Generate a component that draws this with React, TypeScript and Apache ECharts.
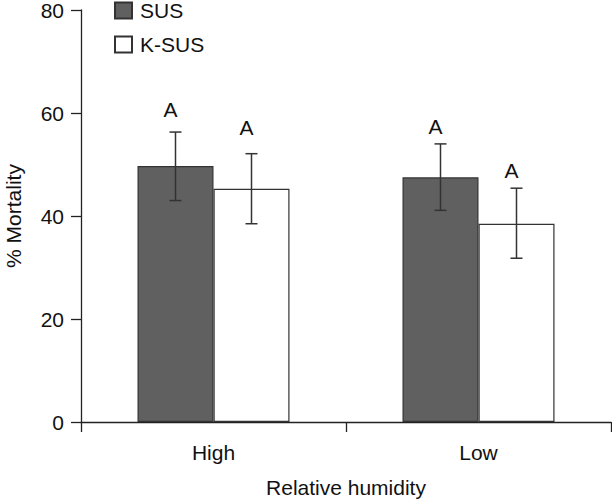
import React, { useEffect, useRef } from "react";
import * as echarts from "echarts";

const categories = ["High", "Low"];
const seriesNames = ["SUS", "K-SUS"];
const susMean = [49.7, 47.5];
const susErrLow = [43.0, 41.1];
const susErrHigh = [56.3, 54.0];
const ksusMean = [45.3, 38.5];
const ksusErrLow = [38.5, 31.8];
const ksusErrHigh = [52.1, 45.4];
const susLetters = ["A", "A"];
const ksusLetters = ["A", "A"];
const susLetterY = [60.7, 57.3];
const ksusLetterY = [57.1, 48.9];
const yTicks = [0, 20, 40, 60, 80];

const FONT = "Liberation Sans, Arial, Helvetica, sans-serif";
const BAR_W = 76;
const FS = 21;

function errorSeries(name: string, lows: number[], highs: number[], letters: string[], letterY: number[], side: number) {
  const data = categories.map((_, i) => [i, lows[i], highs[i], letterY[i]]);
  return {
    type: "custom",
    name: name + "-err",
    data,
    encode: { x: 0, y: [1, 2, 3] },
    z: 10,
    silent: true,
    renderItem: (params: any, api: any) => {
      const idx = api.value(0);
      const lo = api.coord([idx, api.value(1)]);
      const hi = api.coord([idx, api.value(2)]);
      const lt = api.coord([idx, api.value(3)]);
      const x = lo[0] + side * BAR_W / 2;
      const cap = 6;
      const st = { stroke: "#333", lineWidth: 1.5 };
      return {
        type: "group",
        children: [
          { type: "line", shape: { x1: x, y1: lo[1], x2: x, y2: hi[1] }, style: st },
          { type: "line", shape: { x1: x - cap, y1: hi[1], x2: x + cap, y2: hi[1] }, style: st },
          { type: "line", shape: { x1: x - cap, y1: lo[1], x2: x + cap, y2: lo[1] }, style: st },
          {
            type: "text",
            x: x - 5,
            y: lt[1],
            style: {
              text: letters[params.dataIndex],
              fill: "#111",
              font: FS + "px " + FONT,
              textAlign: "center",
              textVerticalAlign: "middle",
            },
          },
        ],
      };
    },
  };
}

export default function App() {
  const ref = useRef<HTMLDivElement>(null);
  useEffect(() => {
    const chart = echarts.init(ref.current!, null, { renderer: "svg" });
    chart.setOption({
      animation: false,
      backgroundColor: "#fff",
      textStyle: { fontFamily: FONT },
      grid: { left: 81, right: 1, top: 10, bottom: 81, outerBoundsMode: "none", containLabel: false },
      legend: {
        data: seriesNames,
        orient: "vertical",
        left: 114,
        top: 0,
        padding: 0,
        icon: "rect",
        itemWidth: 17,
        itemHeight: 16,
        itemGap: 13,
        textStyle: { fontFamily: FONT, fontSize: FS, color: "#111", padding: [0, 0, 0, 3] },
      },
      xAxis: {
        type: "category",
        data: categories,
        name: "Relative humidity",
        nameLocation: "middle",
        nameGap: 55,
        nameTextStyle: { fontFamily: FONT, fontSize: FS, color: "#111" },
        axisLine: { lineStyle: { color: "#222", width: 1.3 } },
        axisTick: { show: true, length: 10, lineStyle: { color: "#222", width: 1.3 } },
        axisLabel: { fontFamily: FONT, fontSize: FS, color: "#111", margin: 20 },
      },
      yAxis: {
        type: "value",
        min: 0,
        max: 80,
        interval: 20,
        name: "% Mortality",
        nameLocation: "middle",
        nameGap: 57,
        nameTextStyle: { fontFamily: FONT, fontSize: FS, color: "#111" },
        splitLine: { show: false },
        axisLine: { show: true, lineStyle: { color: "#222", width: 1.3 } },
        axisTick: { show: true, length: 10, lineStyle: { color: "#222", width: 1.3 } },
        axisLabel: {
          fontFamily: FONT,
          fontSize: FS,
          color: "#111",
          margin: 17,
          formatter: (v: number) => (yTicks.includes(v) ? String(v) : ""),
        },
      },
      series: [
        {
          type: "bar",
          name: seriesNames[0],
          data: susMean,
          barWidth: BAR_W,
          barGap: "0%",
          itemStyle: { color: "#606060", borderColor: "#333", borderWidth: 1.2 },
        },
        {
          type: "bar",
          name: seriesNames[1],
          data: ksusMean,
          barWidth: BAR_W,
          barGap: "0%",
          itemStyle: { color: "#fff", borderColor: "#333", borderWidth: 1.2 },
        },
        errorSeries("SUS", susErrLow, susErrHigh, susLetters, susLetterY, -1),
        errorSeries("K-SUS", ksusErrLow, ksusErrHigh, ksusLetters, ksusLetterY, 1),
      ],
    });
    return () => chart.dispose();
  }, []);
  return (
    <div
      ref={ref}
      style={{ position: "absolute", left: 0, top: 0, width: 612, height: 503 }}
    />
  );
}
